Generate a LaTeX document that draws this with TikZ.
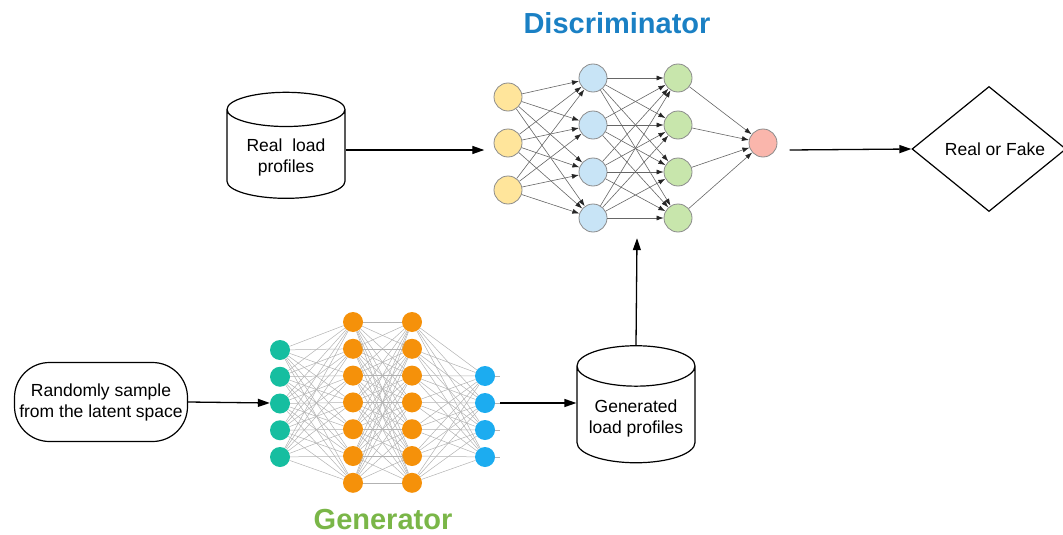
\documentclass[tikz,border=0pt]{standalone}
\usepackage{fontspec}
\setmainfont{Liberation Sans}
\usetikzlibrary{shapes.geometric,arrows.meta}
\definecolor{discblue}{RGB}{26,128,196}
\definecolor{gengreen}{RGB}{122,182,72}
\definecolor{inyellow}{RGB}{255,229,155}
\definecolor{hidblue}{RGB}{200,228,246}
\definecolor{hidgreen}{RGB}{200,230,172}
\definecolor{outred}{RGB}{250,182,172}
\definecolor{genteal}{RGB}{22,190,160}
\definecolor{genorange}{RGB}{245,145,10}
\definecolor{genblue}{RGB}{28,172,240}
\tikzset{
  flow/.style={line width=1.3pt, -{Triangle[length=12pt,width=8pt]}},
  dneuron/.style={circle, draw=black!45, line width=0.8pt, minimum size=28pt, inner sep=0pt},
  gneuron/.style={circle, minimum size=20pt, inner sep=0pt},
  dlink/.style={black!60, line width=0.6pt, -{Latex[length=7pt,width=5pt,color=black!85]}},
  glink/.style={black!30, line width=0.5pt},
  txt/.style={font=\fontsize{17.5}{21}\selectfont, align=center},
  store/.style={txt, cylinder, shape border rotate=90, draw, line width=1.2pt, aspect=0.4},
  title/.style={font=\fontsize{29}{34}\selectfont\bfseries, inner sep=0pt},
}
\begin{document}
\begin{tikzpicture}[x=1pt, y=-1pt]
  \useasboundingbox (0,0) rectangle (1063,535);
  % titles
  \node[title, text=discblue] (dtitle) at (617,23) {Discriminator};
  \node[title, text=gengreen] (gtitle) at (383,520) {Generator};
  % discriminator
  \node[minimum width=305pt, minimum height=176pt, inner sep=0pt] (disc) at (637,150) {};
  \foreach \i/\y in {1/97, 2/143, 3/190}
    \node[dneuron, fill=inyellow] (y\i) at (508,\y) {};
  \foreach \i/\y in {1/78, 2/125, 3/172, 4/218} {
    \node[dneuron, fill=hidblue] (b\i) at (593,\y) {};
    \node[dneuron, fill=hidgreen] (g\i) at (678,\y) {};
  }
  \node[dneuron, fill=outred] (r) at (763,143) {};
  \foreach \i in {1,...,3}
    \foreach \j in {1,...,4}
      \draw[dlink] (y\i) -- (b\j);
  \foreach \i in {1,...,4} {
    \foreach \j in {1,...,4}
      \draw[dlink] (b\i) -- (g\j);
    \draw[dlink] (g\i) -- (r);
  }
  % generator
  \node[minimum width=230pt, minimum height=185pt, inner sep=0pt] (gennet) at (385,403) {};
  \foreach \i in {1,...,5}
    \node[gneuron, fill=genteal] (t\i) at (280,{350+26.75*(\i-1)}) {};
  \foreach \i in {1,...,7} {
    \node[gneuron, fill=genorange] (o\i) at (353,{322+26.8*(\i-1)}) {};
    \node[gneuron, fill=genorange] (p\i) at (412,{322+26.8*(\i-1)}) {};
  }
  \foreach \i in {1,...,4} {
    \node[gneuron, fill=genblue] (u\i) at (485,{376+27*(\i-1)}) {};
    \coordinate (v\i) at (500,{376+27*(\i-1)});
  }
  \foreach \i in {1,...,5}
    \foreach \j in {1,...,7}
      \draw[glink] (t\i) -- (o\j);
  \foreach \i in {1,...,7}
    \foreach \j in {1,...,7}
      \draw[glink] (o\i) -- (p\j);
  \foreach \i in {1,...,7}
    \foreach \j in {1,...,4}
      \draw[glink] (p\i) -- (u\j);
  \foreach \i in {1,...,4}
    \draw[glink] (u\i) -- (v\i);
  % boxes
  \node[store, minimum width=118pt, minimum height=106pt] (real) at (286,157) {Real\ \ load\\profiles};
  \node[store, minimum width=118pt, minimum height=117pt] (fake) at (636,418) {Generated\\load profiles};
  \node[txt, draw, line width=1.2pt, rounded corners=35pt, minimum width=173pt, minimum height=79pt] (noise) at (101,402) {Randomly sample\\from the latent space};
  \node[txt, diamond, draw, line width=1.2pt, inner sep=0pt, minimum width=154pt, minimum height=118pt] (decide) at (989,149) {\hspace{12pt}Real or Fake};
  % arrows
  \draw[flow] (disc.west -| real.east) -- (disc.west);
  \draw[flow] (disc.east) -- (decide.west);
  \draw[flow] (noise.east) -- (gennet.west);
  \draw[flow] (gennet.east) -- (gennet.east -| fake.west);
  \draw[flow] (fake.north) -- (disc.south);
\end{tikzpicture}
\end{document}
